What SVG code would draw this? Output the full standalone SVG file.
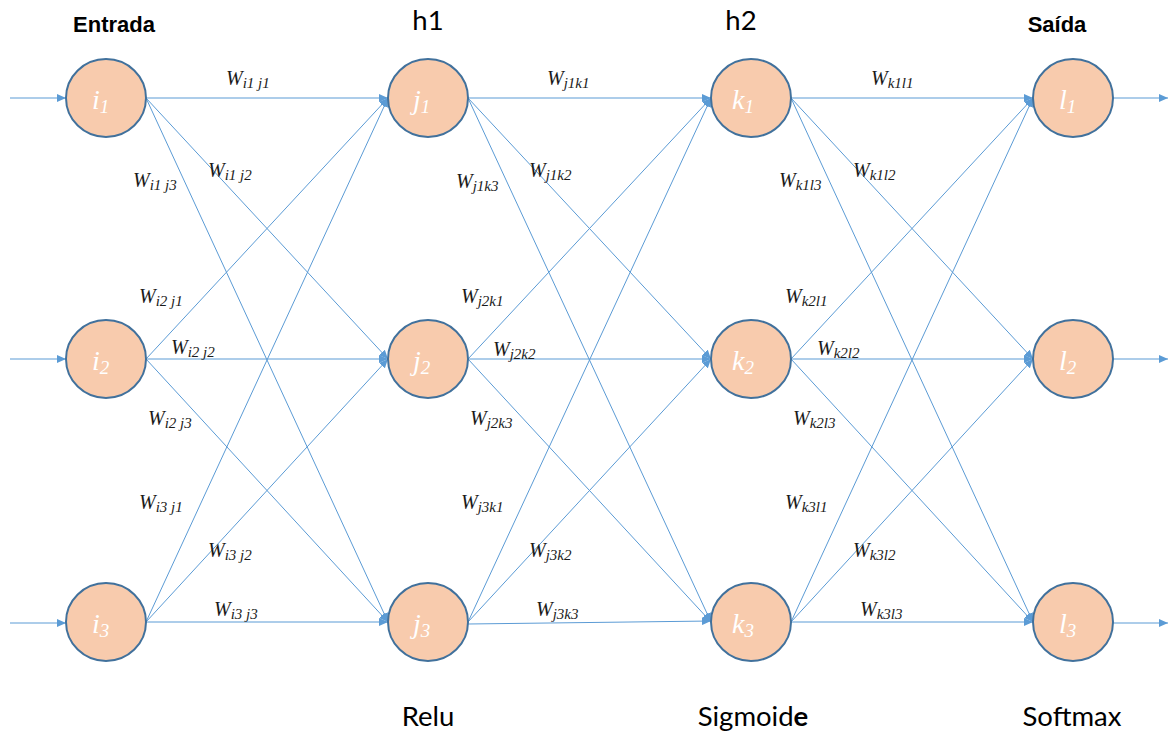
<svg xmlns="http://www.w3.org/2000/svg" width="1169" height="733" viewBox="0 0 1169 733">
<style>
.c{stroke:#5B9BD5;stroke-width:1;fill:none;marker-end:url(#ah)}
.n{fill:#F8CBAD;stroke:#41719C;stroke-width:2}
.nl{font-family:"Liberation Serif","DejaVu Serif",serif;font-style:italic;font-size:28px;fill:#FFFFFF}
.nl .s{font-size:19px}
.w{font-family:"Liberation Serif","DejaVu Serif",serif;font-style:italic;font-size:20px;fill:#1a1a1a}
.w .s{font-size:15px}
.hb{font-family:"Liberation Sans",Arial,sans-serif;font-weight:bold;font-size:22px;fill:#000;text-anchor:middle}
.hl{font-family:Lato,"Open Sans",sans-serif;font-size:27.5px;fill:#000;text-anchor:middle}
</style>
<defs>
<marker id="ah" markerUnits="userSpaceOnUse" markerWidth="9" markerHeight="8" refX="9" refY="4" orient="auto">
<path d="M0,0 L9,4 L0,8 z" fill="#5B9BD5"/>
</marker>
</defs>
<rect width="1169" height="733" fill="#FFFFFF"/>
<g id="connectors">
<line class="c" x1="10" y1="98" x2="66" y2="98"/>
<line class="c" x1="10" y1="359" x2="66" y2="359"/>
<line class="c" x1="10" y1="623" x2="66" y2="623"/>
<line class="c" x1="146" y1="98" x2="388" y2="98"/>
<line class="c" x1="146" y1="98" x2="388" y2="359"/>
<line class="c" x1="146" y1="98" x2="388" y2="622"/>
<line class="c" x1="146" y1="359" x2="388" y2="98"/>
<line class="c" x1="146" y1="359" x2="388" y2="359"/>
<line class="c" x1="146" y1="359" x2="388" y2="622"/>
<line class="c" x1="146" y1="622" x2="388" y2="98"/>
<line class="c" x1="146" y1="622" x2="388" y2="359"/>
<line class="c" x1="146" y1="622" x2="388" y2="622"/>
<line class="c" x1="468" y1="98" x2="711" y2="98"/>
<line class="c" x1="468" y1="98" x2="711" y2="359"/>
<line class="c" x1="468" y1="98" x2="711" y2="622"/>
<line class="c" x1="468" y1="359" x2="711" y2="98"/>
<line class="c" x1="468" y1="359" x2="711" y2="359"/>
<line class="c" x1="468" y1="359" x2="711" y2="622"/>
<line class="c" x1="468" y1="622" x2="711" y2="98"/>
<line class="c" x1="468" y1="622" x2="711" y2="359"/>
<line class="c" x1="468" y1="624" x2="711" y2="621"/>
<line class="c" x1="791" y1="98" x2="1033" y2="98"/>
<line class="c" x1="791" y1="98" x2="1033" y2="359"/>
<line class="c" x1="791" y1="98" x2="1033" y2="622"/>
<line class="c" x1="791" y1="359" x2="1033" y2="98"/>
<line class="c" x1="791" y1="359" x2="1033" y2="359"/>
<line class="c" x1="791" y1="359" x2="1033" y2="622"/>
<line class="c" x1="791" y1="622" x2="1033" y2="98"/>
<line class="c" x1="791" y1="622" x2="1033" y2="359"/>
<line class="c" x1="791" y1="622" x2="1033" y2="622"/>
<line class="c" x1="1113" y1="98" x2="1168" y2="98"/>
<line class="c" x1="1113" y1="359" x2="1168" y2="359"/>
<line class="c" x1="1113" y1="623" x2="1168" y2="623"/>
</g>
<g id="weights">
<text class="w" x="226" y="85">W<tspan class="s" dy="3">i1 j1</tspan></text>
<text class="w" x="208" y="177">W<tspan class="s" dy="3">i1 j2</tspan></text>
<text class="w" x="133" y="187">W<tspan class="s" dy="3">i1 j3</tspan></text>
<text class="w" x="139" y="303">W<tspan class="s" dy="3">i2 j1</tspan></text>
<text class="w" x="171" y="354">W<tspan class="s" dy="3">i2 j2</tspan></text>
<text class="w" x="148" y="425">W<tspan class="s" dy="3">i2 j3</tspan></text>
<text class="w" x="139" y="509">W<tspan class="s" dy="3">i3 j1</tspan></text>
<text class="w" x="208" y="557">W<tspan class="s" dy="3">i3 j2</tspan></text>
<text class="w" x="214" y="616">W<tspan class="s" dy="3">i3 j3</tspan></text>
<text class="w" x="547" y="85">W<tspan class="s" dy="3">j1k1</tspan></text>
<text class="w" x="529" y="177">W<tspan class="s" dy="3">j1k2</tspan></text>
<text class="w" x="456" y="188">W<tspan class="s" dy="3">j1k3</tspan></text>
<text class="w" x="461" y="303">W<tspan class="s" dy="3">j2k1</tspan></text>
<text class="w" x="493" y="356">W<tspan class="s" dy="3">j2k2</tspan></text>
<text class="w" x="470" y="425">W<tspan class="s" dy="3">j2k3</tspan></text>
<text class="w" x="461" y="509">W<tspan class="s" dy="3">j3k1</tspan></text>
<text class="w" x="529" y="557">W<tspan class="s" dy="3">j3k2</tspan></text>
<text class="w" x="536" y="616">W<tspan class="s" dy="3">j3k3</tspan></text>
<text class="w" x="871" y="85">W<tspan class="s" dy="3">k1l1</tspan></text>
<text class="w" x="853" y="177">W<tspan class="s" dy="3">k1l2</tspan></text>
<text class="w" x="779" y="187">W<tspan class="s" dy="3">k1l3</tspan></text>
<text class="w" x="785" y="303">W<tspan class="s" dy="3">k2l1</tspan></text>
<text class="w" x="817" y="355">W<tspan class="s" dy="3">k2l2</tspan></text>
<text class="w" x="793" y="425">W<tspan class="s" dy="3">k2l3</tspan></text>
<text class="w" x="785" y="509">W<tspan class="s" dy="3">k3l1</tspan></text>
<text class="w" x="853" y="557">W<tspan class="s" dy="3">k3l2</tspan></text>
<text class="w" x="860" y="616">W<tspan class="s" dy="3">k3l3</tspan></text>
</g>
<g id="node-i1"><ellipse class="n" cx="106" cy="98" rx="40" ry="39"/><text class="nl" x="92" y="109">i<tspan class="s" dy="4">1</tspan></text></g>
<g id="node-i2"><ellipse class="n" cx="106" cy="359" rx="40" ry="39"/><text class="nl" x="92" y="370">i<tspan class="s" dy="4">2</tspan></text></g>
<g id="node-i3"><ellipse class="n" cx="106" cy="622" rx="40" ry="39"/><text class="nl" x="92" y="633">i<tspan class="s" dy="4">3</tspan></text></g>
<g id="node-j1"><ellipse class="n" cx="428" cy="98" rx="40" ry="39"/><text class="nl" x="413" y="109">j<tspan class="s" dy="4">1</tspan></text></g>
<g id="node-j2"><ellipse class="n" cx="428" cy="359" rx="40" ry="39"/><text class="nl" x="413" y="370">j<tspan class="s" dy="4">2</tspan></text></g>
<g id="node-j3"><ellipse class="n" cx="428" cy="622" rx="40" ry="39"/><text class="nl" x="413" y="633">j<tspan class="s" dy="4">3</tspan></text></g>
<g id="node-k1"><ellipse class="n" cx="751" cy="98" rx="40" ry="39"/><text class="nl" x="732" y="109">k<tspan class="s" dy="4">1</tspan></text></g>
<g id="node-k2"><ellipse class="n" cx="751" cy="359" rx="40" ry="39"/><text class="nl" x="732" y="370">k<tspan class="s" dy="4">2</tspan></text></g>
<g id="node-k3"><ellipse class="n" cx="751" cy="622" rx="40" ry="39"/><text class="nl" x="732" y="633">k<tspan class="s" dy="4">3</tspan></text></g>
<g id="node-l1"><ellipse class="n" cx="1073" cy="98" rx="40" ry="39"/><text class="nl" x="1059" y="109">l<tspan class="s" dy="4">1</tspan></text></g>
<g id="node-l2"><ellipse class="n" cx="1073" cy="359" rx="40" ry="39"/><text class="nl" x="1059" y="370">l<tspan class="s" dy="4">2</tspan></text></g>
<g id="node-l3"><ellipse class="n" cx="1073" cy="622" rx="40" ry="39"/><text class="nl" x="1059" y="633">l<tspan class="s" dy="4">3</tspan></text></g>
<g id="headers">
<text class="hb" x="114" y="32">Entrada</text>
<text class="hl" x="428" y="30">h1</text>
<text class="hl" x="741" y="30">h2</text>
<text class="hb" x="1057" y="32">Saída</text>
<text class="hl" x="428" y="726">Relu</text>
<text class="hl" x="753" y="726">Sigmoid<tspan font-weight="bold">e</tspan></text>
<text class="hl" x="1072" y="726">Softmax</text>
</g>
</svg>
